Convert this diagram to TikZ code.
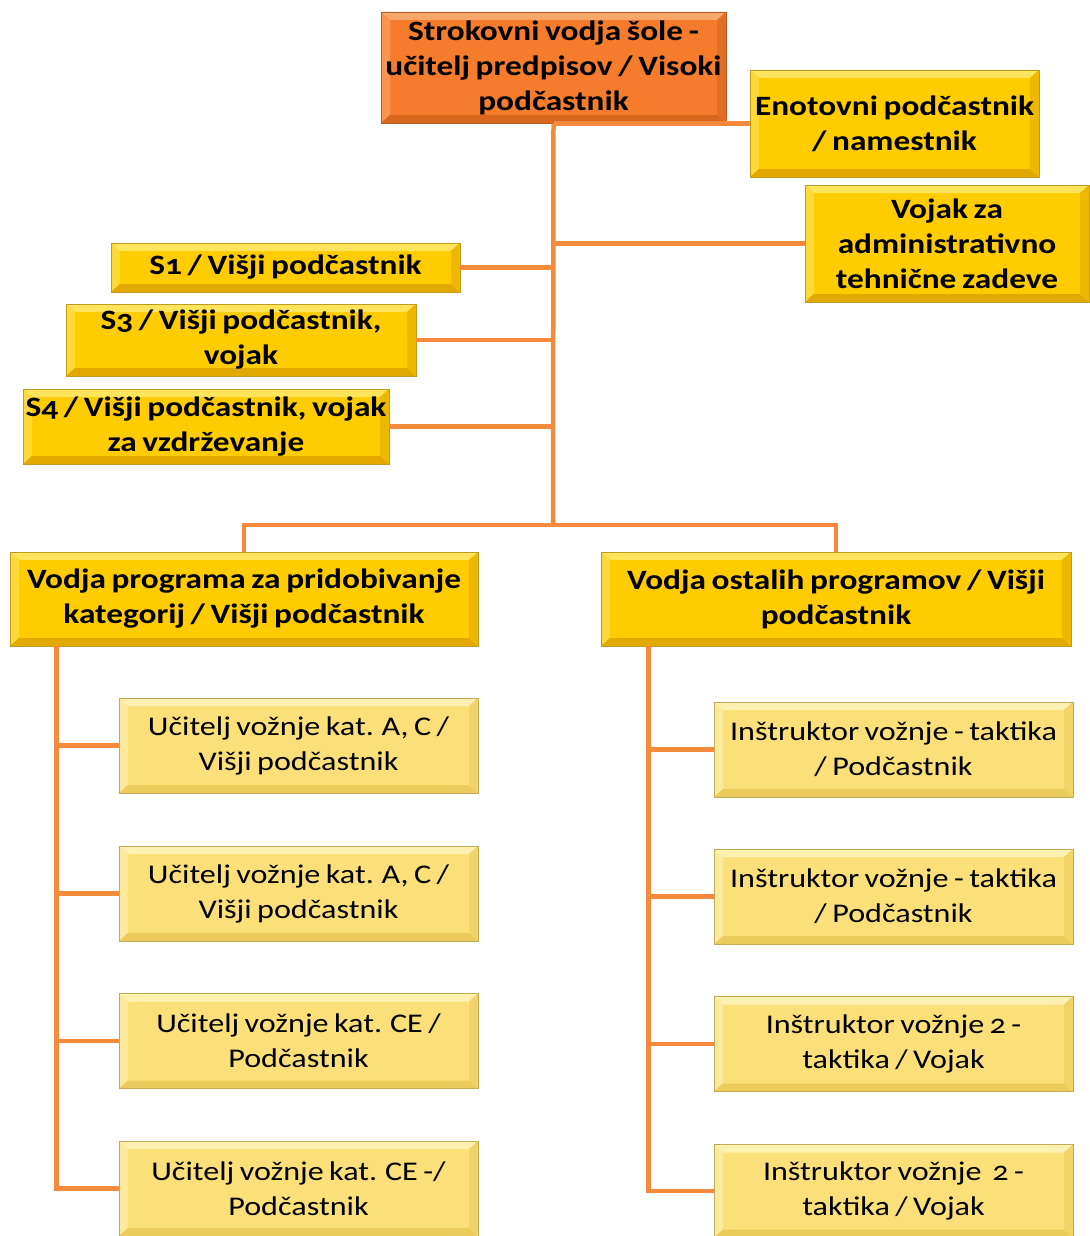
\documentclass[tikz,border=0pt]{standalone}
\usepackage{fontspec}
\setmainfont{Carlito}[Numbers=OldStyle, FakeStretch=1.19, WordSpace=0.75]
\usetikzlibrary{calc}
\definecolor{conn}{HTML}{F68A3C}
\definecolor{orM}{HTML}{F47C2C}
\definecolor{orL}{HTML}{F9A66A}
\definecolor{orD}{HTML}{D9661E}
\definecolor{orB}{HTML}{B85A26}
\definecolor{goM}{HTML}{FFCC00}
\definecolor{goL}{HTML}{FFE45C}
\definecolor{goD}{HTML}{E3A900}
\definecolor{goB}{HTML}{BF9B1F}
\definecolor{paM}{HTML}{FBE07A}
\definecolor{paL}{HTML}{FDF0B2}
\definecolor{paD}{HTML}{EACB5C}
\definecolor{paB}{HTML}{C4AA55}
\tikzset{
  bevelbox/.style n args={4}{fill=#1, draw=#4, line width=0.8pt, inner sep=0pt,
    align=center,
    path picture={
      \path (path picture bounding box.south west) coordinate (sw)
            (path picture bounding box.north east) coordinate (ne)
            (path picture bounding box.north west) coordinate (nw)
            (path picture bounding box.south east) coordinate (se);
      \path (sw) ++(9pt,8pt) coordinate (isw)
            (ne) ++(-9pt,-8pt) coordinate (ine)
            (nw) ++(9pt,-8pt) coordinate (inw)
            (se) ++(-9pt,8pt) coordinate (ise);
      \fill[#2] (nw) -- (ne) -- (ine) -- (inw) -- cycle;
      \fill[#2!60!#1] (nw) -- (inw) -- (isw) -- (sw) -- cycle;
      \fill[#3] (sw) -- (isw) -- (ise) -- (se) -- cycle;
      \fill[#3!60!#1] (se) -- (ise) -- (ine) -- (ne) -- cycle;
    }},
  orbox/.style={bevelbox={orM}{orL}{orD}{orB}, font=\fontsize{28}{35}\selectfont\bfseries},
  gobox/.style={bevelbox={goM}{goL}{goD}{goB}, font=\fontsize{28}{35}\selectfont\bfseries},
  pabox/.style={bevelbox={paM}{paL}{paD}{paB}, font=\fontsize{27}{35}\selectfont},
  link/.style={draw=conn, line width=4.5pt}
}
\begin{document}
\begin{tikzpicture}[x=1pt,y=-1pt]
\useasboundingbox (0,0) rectangle (1089,1236);
\fill[white] (0,0) rectangle (1089,1236);
\coordinate (jbar) at (553,525);
% nodes
\node[orbox, minimum width=345pt, minimum height=111pt] (top) at (553.5,67.5)
  {Strokovni vodja šole -\\učitelj predpisov / Visoki\\podčastnik};
\node[gobox, minimum width=289pt, minimum height=107pt] (eno) at (894.5,123.5)
  {Enotovni podčastnik\\/ namestnik};
\node[gobox, minimum width=284pt, minimum height=117pt] (voj) at (947,243.5)
  {Vojak za\\administrativno\\tehnične zadeve};
\node[gobox, minimum width=349pt, minimum height=49pt] (s1) at (285.5,267.5)
  {S1 / Višji podčastnik};
\node[gobox, minimum width=350pt, minimum height=72pt] (s3) at (241,340)
  {S3 / Višji podčastnik,\\vojak};
\node[gobox, minimum width=366pt, minimum height=75pt] (s4) at (206,426.5)
  {S4 / Višji podčastnik, vojak\\za vzdrževanje};
\node[gobox, minimum width=468pt, minimum height=94pt] (vp) at (244,599)
  {Vodja programa za pridobivanje\\kategorij / Višji podčastnik};
\node[gobox, minimum width=470pt, minimum height=94pt] (vo) at (836,599)
  {Vodja ostalih programov / Višji\\podčastnik};
\node[pabox, minimum width=359pt, minimum height=95pt] (l1) at (298.5,745.5)
  {Učitelj vožnje kat. A, C /\\Višji podčastnik};
\node[pabox, minimum width=359pt, minimum height=95pt] (l2) at (298.5,893.5)
  {Učitelj vožnje kat. A, C /\\Višji podčastnik};
\node[pabox, minimum width=359pt, minimum height=95pt] (l3) at (298.5,1041)
  {Učitelj vožnje kat. CE /\\Podčastnik};
\node[pabox, minimum width=359pt, minimum height=95pt] (l4) at (298.5,1188.5)
  {Učitelj vožnje kat. CE -/\\Podčastnik};
\node[pabox, minimum width=359pt, minimum height=95pt] (r1) at (893.5,749.5)
  {Inštruktor vožnje - taktika\\/ Podčastnik};
\node[pabox, minimum width=359pt, minimum height=95pt] (r2) at (893.5,896.5)
  {Inštruktor vožnje - taktika\\/ Podčastnik};
\node[pabox, minimum width=359pt, minimum height=95pt] (r3) at (893.5,1044)
  {Inštruktor vožnje 2 -\\taktika / Vojak};
\node[pabox, minimum width=359pt, minimum height=93pt] (r4) at (893.5,1191)
  {Inštruktor vožnje\ \ 2 -\\taktika / Vojak};
% connectors
\draw[link] (top.south) -- (jbar);
\draw[link] (eno.west) -- (eno.west -| top.south);
\draw[link] (voj.west) -- (voj.west -| top.south);
\draw[link] (s1.east) -- (s1.east -| top.south);
\draw[link] (s3.east) -- (s3.east -| top.south);
\draw[link] (s4.east) -- (s4.east -| top.south);
\draw[link] (vp.north) |- (jbar) -| (vo.north);
\coordinate (lbus) at ([xshift=47pt]vp.south west);
\coordinate (rbus) at ([xshift=48pt]vo.south west);
\draw[link] (lbus) |- (l4.west);
\draw[link] (l1.west) -- (l1.west -| lbus);
\draw[link] (l2.west) -- (l2.west -| lbus);
\draw[link] (l3.west) -- (l3.west -| lbus);
\draw[link] (rbus) |- (r4.west);
\draw[link] (r1.west) -- (r1.west -| rbus);
\draw[link] (r2.west) -- (r2.west -| rbus);
\draw[link] (r3.west) -- (r3.west -| rbus);
\end{tikzpicture}
\end{document}
